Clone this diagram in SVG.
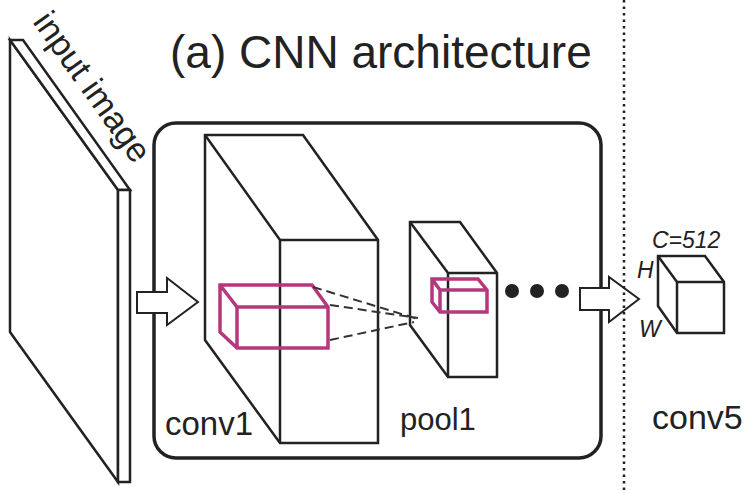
<svg xmlns="http://www.w3.org/2000/svg" width="744" height="491" viewBox="0 0 744 491">
<style>
.ln{fill:#fff;stroke:#222;stroke-width:2.5;stroke-linejoin:miter}
.nf{fill:none;stroke:#222;stroke-width:2.5}
.mg{fill:none;stroke:#b5387c;stroke-width:3.5;stroke-linejoin:miter}
.ds{fill:none;stroke:#333;stroke-width:2;stroke-dasharray:9 5}
.t{font-family:"Liberation Sans",Arial,sans-serif;fill:#222}
.arr{fill:#fff;stroke:#222;stroke-width:2}
</style>
<rect width="744" height="491" fill="#fff"/>
<text class="t" x="170" y="68" font-size="46">(a) CNN architecture</text>
<g id="input">
<polygon class="ln" points="10,40 118,190 118,482 10,332"/>
<polygon class="ln" points="10,40 23,40 130,190 118,190"/>
<polygon class="ln" points="118,190 130,190 130,482 118,482"/>
<text class="t" font-size="34" transform="translate(32,22) rotate(54.5)">input image</text>
</g>
<g id="cnn">
<rect x="154" y="123" width="447" height="335" rx="22" fill="none" stroke="#222" stroke-width="3.5"/>
</g>
<g id="conv1">
<polygon class="ln" points="205,135 303,135 378,240 378,443 280,443 205,340"/>
<path class="nf" d="M205,135 L280,240 L378,240 M280,240 L280,443"/>
<path class="mg" d="M220,285 L312,285 L328,307 L328,348 L237,348 L220,332 Z M220,285 L237,307 L328,307 M237,307 L237,348"/>
<text class="t" x="165" y="435" font-size="33">conv1</text>
</g>
<g id="pool1">
<polygon class="ln" points="410,222 460,222 497,273 497,377 448,377 410,325"/>
<path class="nf" d="M410,222 L448,273 L497,273 M448,273 L448,377"/>
<path class="mg" d="M432,279 L478,279 L487,290 L487,312 L440,312 L432,302 Z M432,279 L440,290 L487,290 M440,290 L440,312"/>
<text class="t" x="400" y="430" font-size="31">pool1</text>
</g>
<g id="connectors">
<path class="ds" d="M313,287 L418,319 M330,305 L418,318 M330,340 L414,322"/>
<path class="arr" d="M137,292 L167,292 L167,278 L198,302 L167,325 L167,313 L137,313 Z"/>
<path class="arr" d="M580,288 L609,288 L609,277 L639,299 L609,322 L609,310 L580,310 Z"/>
<circle cx="512" cy="291" r="7" fill="#222"/>
<circle cx="537" cy="291" r="7" fill="#222"/>
<circle cx="562" cy="291" r="7" fill="#222"/>
</g>
<line x1="624" y1="0" x2="624" y2="491" stroke="#222" stroke-width="2.5" stroke-dasharray="2.5 4"/>
<g id="conv5">
<polygon class="ln" points="658,256 705,256 724,282 724,333 677,333 658,306"/>
<path class="nf" d="M658,256 L677,282 L724,282 M677,282 L677,333"/>
<text class="t" x="652" y="248" font-size="23" font-style="italic">C=512</text>
<text class="t" x="637" y="278" font-size="23" font-style="italic">H</text>
<text class="t" x="639" y="337" font-size="23" font-style="italic">W</text>
<text class="t" x="652" y="429" font-size="34">conv5</text>
</g>
</svg>
